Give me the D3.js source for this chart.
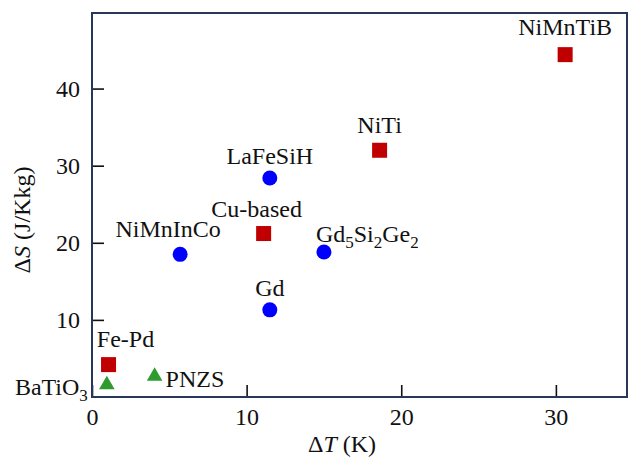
<!DOCTYPE html>
<html>
<head>
<meta charset="utf-8">
<script src="https://cdn.jsdelivr.net/npm/d3@7"></script>
</head>
<body style="margin:0">
<script>
// materials, grouped by marker
const materials = ["NiMnTiB", "NiTi", "Cu-based", "Fe-Pd", "LaFeSiH", "Gd5Si2Ge2", "Gd", "NiMnInCo", "BaTiO3", "PNZS"];
const deltaT = [30.6, 18.6, 11.1, 1.07, 11.5, 15.0, 11.5, 5.7, 0.96, 4.05];
const deltaS = [44.4, 32.0, 21.2, 4.2, 28.4, 18.8, 11.3, 18.5, 1.6, 2.7];
const kind = ["sq", "sq", "sq", "sq", "ci", "ci", "ci", "ci", "tr", "tr"];

const xTicks = [0, 10, 20, 30];
const yTicks = [10, 20, 30, 40];

// label placement relative to the marker (px)
const labelPos = {
    "NiMnTiB":   { dx: 0,   dy: -20, anchor: "middle" },
    "NiTi":      { dx: 0,   dy: -17, anchor: "middle" },
    "Cu-based":  { dx: -7,  dy: -17, anchor: "middle" },
    "Fe-Pd":     { dx: 17,  dy: -18, anchor: "middle" },
    "LaFeSiH":   { dx: 0,   dy: -14, anchor: "middle" },
    "Gd5Si2Ge2": { dx: -8,  dy: -10, anchor: "start" },
    "Gd":        { dx: 0,   dy: -14, anchor: "middle" },
    "NiMnInCo":  { dx: -12, dy: -17, anchor: "middle" },
    "BaTiO3":    { dx: -19, dy: 10,  anchor: "end" },
    "PNZS":      { dx: 11,  dy: 11,  anchor: "start" }
};

const colors = { sq: "#c00000", ci: "#0000ff", tr: "#2e9b2e" };
const font = '"Liberation Serif", "Times New Roman", Tinos, serif';
const fs = 24;

const width = 631, height = 461;
const margin = { top: 13, right: 4, bottom: 64, left: 92 };
const w = width - margin.left - margin.right;
const h = height - margin.top - margin.bottom;

const svg = d3.select("body").append("svg")
    .attr("width", width)
    .attr("height", height);

const g = svg.append("g").attr("transform", `translate(${margin.left},${margin.top})`);

const x = d3.scaleLinear().domain([0, 34.6]).range([0, w]);
const y = d3.scaleLinear().domain([0, 49.8]).range([h, 0]);

const xAxis = g.append("g")
    .attr("transform", `translate(0,${h})`)
    .call(d3.axisBottom(x).tickValues(xTicks).tickSizeInner(-12).tickSizeOuter(0).tickPadding(11));
const yAxis = g.append("g")
    .call(d3.axisLeft(y).tickValues(yTicks).tickSizeInner(-12).tickSizeOuter(0).tickPadding(12));

[xAxis, yAxis].forEach(a => {
    a.attr("font-family", null).attr("font-size", null);
    a.select(".domain").remove();
    a.selectAll("line").attr("stroke", "#111").attr("stroke-width", 1.6);
    a.selectAll("text").attr("fill", "#111")
        .attr("font-size", fs)
        .style("font-family", font);
});

// frame
g.append("rect")
    .attr("x", 0).attr("y", 0)
    .attr("width", w).attr("height", h)
    .attr("fill", "none")
    .attr("stroke", "#26375a")
    .attr("stroke-width", 2);

const pts = materials.map((m, i) => ({ name: m, t: deltaT[i], s: deltaS[i], kind: kind[i] }));

const sq = 15;
g.selectAll(".sq")
    .data(pts.filter(d => d.kind === "sq"))
    .enter().append("rect")
    .attr("class", "sq")
    .attr("x", d => x(d.t) - sq / 2)
    .attr("y", d => y(d.s) - sq / 2)
    .attr("width", sq).attr("height", sq)
    .attr("fill", colors.sq);

g.selectAll(".ci")
    .data(pts.filter(d => d.kind === "ci"))
    .enter().append("circle")
    .attr("class", "ci")
    .attr("cx", d => x(d.t))
    .attr("cy", d => y(d.s))
    .attr("r", 7.5)
    .attr("fill", colors.ci);

const tri = d3.symbol().type(d3.symbolTriangle).size(105);
g.selectAll(".tr")
    .data(pts.filter(d => d.kind === "tr"))
    .enter().append("path")
    .attr("class", "tr")
    .attr("d", tri)
    .attr("transform", d => `translate(${x(d.t)},${y(d.s)})`)
    .attr("fill", colors.tr);

// labels, with chemical subscripts
function addLabel(d) {
    const p = labelPos[d.name];
    const t = g.append("text")
        .attr("x", x(d.t) + p.dx)
        .attr("y", y(d.s) + p.dy)
        .attr("text-anchor", p.anchor)
        .attr("font-size", fs)
        .attr("fill", "#111")
        .style("font-family", font);
    const parts = d.name.match(/[^0-9]+|[0-9]+/g);
    let down = false;
    parts.forEach(part => {
        const isSub = /^[0-9]+$/.test(part);
        const ts = t.append("tspan").text(part);
        if (isSub) {
            ts.attr("font-size", 17).attr("dy", down ? 0 : 6);
            down = true;
        } else if (down) {
            ts.attr("dy", -6);
            down = false;
        }
    });
}
pts.forEach(addLabel);

// axis titles
const xt = svg.append("text")
    .attr("x", 342).attr("y", 452)
    .attr("text-anchor", "middle")
    .attr("font-size", fs)
    .attr("fill", "#111")
    .style("font-family", font);
xt.append("tspan").text("Δ");
xt.append("tspan").attr("font-style", "italic").text("T");
xt.append("tspan").text(" (K)");

const yt = svg.append("text")
    .attr("transform", "translate(30,220) rotate(-90)")
    .attr("text-anchor", "middle")
    .attr("font-size", fs)
    .attr("fill", "#111")
    .style("font-family", font);
yt.append("tspan").text("Δ");
yt.append("tspan").attr("font-style", "italic").text("S");
yt.append("tspan").text(" (J/Kkg)");
</script>
</body>
</html>
